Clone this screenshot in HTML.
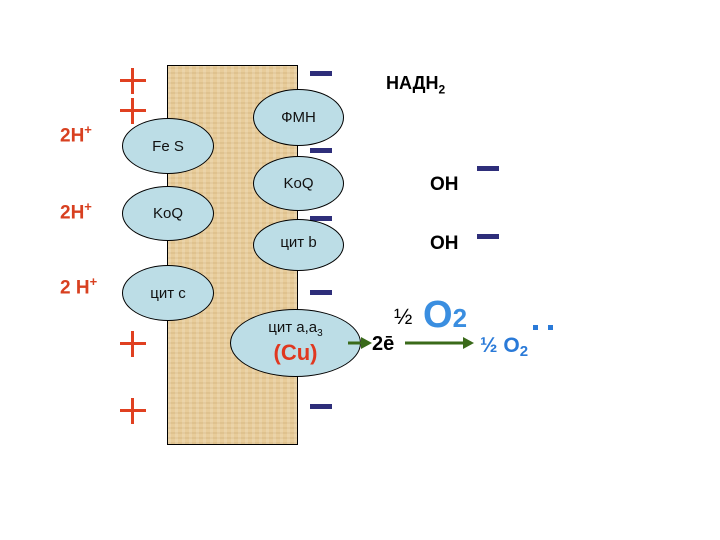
<!DOCTYPE html>
<html><head><meta charset="utf-8"><style>
body{margin:0;width:720px;height:540px;background:#fff;position:relative;overflow:hidden;font-family:"Liberation Sans",sans-serif}
.a{position:absolute}
.mem{left:167px;top:65px;width:131px;height:380px;background:#e8cc9a;border:1px solid #000;box-sizing:border-box;background-image:repeating-linear-gradient(90deg,rgba(255,255,255,.15) 0 3px,rgba(0,0,0,0) 3px 7px),repeating-linear-gradient(0deg,rgba(160,120,60,.12) 0 2px,rgba(0,0,0,0) 2px 5px)}
.e{position:absolute;background:#bcdde6;border:1.3px solid #000;border-radius:50%;box-sizing:border-box;display:flex;align-items:center;justify-content:center;font-size:15px;color:#111}
.p{position:absolute;width:26px;height:26px}
.p:before{content:"";position:absolute;left:0;top:11px;width:26px;height:3px;background:#e04020}
.p:after{content:"";position:absolute;left:11px;top:0;width:3px;height:26px;background:#e04020}
.m{position:absolute;width:22px;height:5px;background:#2e2e7a}
.h{position:absolute;color:#d84020;font-weight:bold;font-size:19px}
.h sup{font-size:13px}
.b{font-weight:bold}
</style></head><body>
<div class="a mem"></div>
<div class="p" style="left:120px;top:68px"></div>
<div class="p" style="left:120px;top:98px"></div>
<div class="p" style="left:120px;top:331px"></div>
<div class="p" style="left:120px;top:398px"></div>
<div class="m" style="left:310px;top:71px"></div>
<div class="m" style="left:310px;top:148px"></div>
<div class="m" style="left:310px;top:216px"></div>
<div class="m" style="left:310px;top:290px"></div>
<div class="m" style="left:310px;top:404px"></div>
<div class="m" style="left:477px;top:166px"></div>
<div class="m" style="left:477px;top:234px"></div>
<div class="e" style="left:122px;top:118px;width:92px;height:56px">Fe S</div>
<div class="e" style="left:122px;top:186px;width:92px;height:55px">KoQ</div>
<div class="e" style="left:122px;top:265px;width:92px;height:56px">цит c</div>
<div class="e" style="left:253px;top:89px;width:91px;height:57px">ФМН</div>
<div class="e" style="left:253px;top:156px;width:91px;height:55px">KoQ</div>
<div class="e" style="left:253px;top:219px;width:91px;height:52px;align-items:flex-start;padding-top:14px">цит b</div>
<div class="e" style="left:230px;top:309px;width:131px;height:68px;flex-direction:column;line-height:1.2">
<span style="font-size:15px">цит a,a<sub style="font-size:10px">3</sub></span>
<span style="color:#e03820;font-weight:bold;font-size:22px">(Cu)</span></div>
<div class="h" style="left:60px;top:122px">2H<sup>+</sup></div>
<div class="h" style="left:60px;top:199px">2H<sup>+</sup></div>
<div class="h" style="left:60px;top:274px">2 H<sup>+</sup></div>
<div class="a b" style="left:386px;top:73px;font-size:18px">НАДН<sub style="font-size:12px">2</sub></div>
<div class="a b" style="left:430px;top:174px;font-size:19px">OH</div>
<div class="a b" style="left:430px;top:233px;font-size:19px">OH</div>
<div class="a" style="left:394px;top:304px;font-size:22px">½</div>
<div class="a b" style="left:423px;top:294px;font-size:38px;color:#3a8ee0">O<span style="font-size:26px">2</span></div>
<div class="a b" style="left:372px;top:333px;font-size:20px">2ē</div>
<div class="a b" style="left:480px;top:334px;font-size:21px;color:#2a7ad8">½ O<span style="font-size:15px;vertical-align:-4px">2</span></div>
<div class="a" style="left:533px;top:325px;width:5px;height:5px;background:#2a7ad8"></div>
<div class="a" style="left:548px;top:325px;width:5px;height:5px;background:#2a7ad8"></div>
<svg class="a" style="left:0;top:0" width="720" height="540">
<g fill="#3a6a1a" stroke="#3a6a1a" stroke-width="3">
<line x1="348" y1="343" x2="362" y2="343"/><polygon points="361,337 372,343 361,349" stroke="none"/>
<line x1="405" y1="343" x2="465" y2="343"/><polygon points="463,337 474,343 463,349" stroke="none"/>
</g></svg>
</body></html>
